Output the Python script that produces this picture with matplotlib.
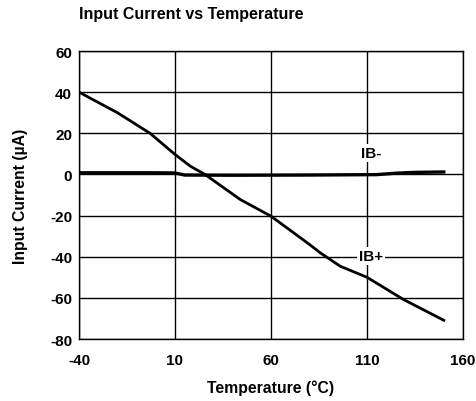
import matplotlib
matplotlib.use('Agg')
import matplotlib.pyplot as plt

plt.rcParams['font.family'] = ['Liberation Sans', 'DejaVu Sans']
plt.rcParams['font.weight'] = 'bold'
plt.rcParams['axes.unicode_minus'] = False

# Temperature sweep (°C) and bias currents (µA)
temp_ibp = [-40, -20, -3, 10, 18, 25.6, 44, 60, 80, 85.5, 96, 110, 129, 150]
ib_plus = [40, 30, 20, 9.7, 4, 0, -12.2, -20.3, -34, -38, -44.6, -50, -60.8, -70.9]

temp_ibm = [-40, 0, 10, 15, 40, 80, 115, 125, 135, 150]
ib_minus = [0.8, 0.8, 0.7, -0.3, -0.4, -0.3, -0.1, 0.6, 1.0, 1.2]

x_ticks = [-40, 10, 60, 110, 160]
y_ticks = [-80, -60, -40, -20, 0, 20, 40, 60]

fig = plt.figure(figsize=(4.77, 4.02), dpi=100)
ax = fig.add_axes([79 / 477, 1 - 340 / 402, 384 / 477, 288 / 402])

ax.plot(temp_ibp, ib_plus, color='black', lw=2.0, zorder=3)
ax.plot(temp_ibm, ib_minus, color='black', lw=2.4, zorder=3)

ax.set_xlim(-40, 160)
ax.set_ylim(-80, 60)
ax.set_xticks(x_ticks)
ax.set_yticks(y_ticks)
ax.grid(True, color='black', lw=1.0, zorder=1)
ax.tick_params(axis='x', length=0, labelsize=11, pad=10)
ax.tick_params(axis='y', length=0, labelsize=11, pad=5)
for lab in ax.get_xticklabels() + ax.get_yticklabels():
    lab.set_fontweight('bold')
for s in ax.spines.values():
    s.set_linewidth(1.0)
    s.set_zorder(4)

bbox = dict(facecolor='white', edgecolor='none', pad=1.5)
ax.text(112, 10.5, 'IB-', fontsize=11, fontweight='bold', ha='center',
        va='center', bbox=bbox, zorder=2)
ax.text(112, -39.5, 'IB+', fontsize=11, fontweight='bold', ha='center',
        va='center', bbox=bbox, zorder=2)

ax.set_xlabel('Temperature (°C)', fontsize=11.3, fontweight='bold', labelpad=9)
ax.set_ylabel('Input Current (µA)', fontsize=11.3, fontweight='bold', labelpad=16)
fig.text(79 / 477, 1 - 15 / 402, 'Input Current vs Temperature', fontsize=11.5,
         fontweight='bold', ha='left', va='center')

fig.savefig('out.png', dpi=100)
